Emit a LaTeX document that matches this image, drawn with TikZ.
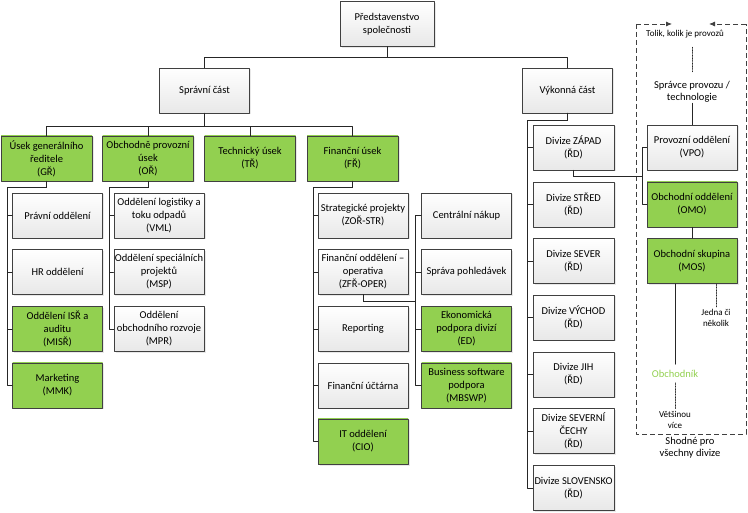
\documentclass[tikz,border=0pt]{standalone}
\usepackage{fontspec}
\setmainfont{Carlito}
\usetikzlibrary{arrows.meta,shadows}
\definecolor{zelena}{RGB}{146,208,80}
\definecolor{obrys}{RGB}{64,64,64}
\begin{document}
\begin{tikzpicture}[x=1pt,y=-1pt,line join=round,line cap=round,>={Latex[length=6pt,width=5pt]},
	blok/.style={draw=obrys,line width=0.8pt,top color=white,bottom color=black!9,minimum width=90pt,minimum height=45pt,inner sep=1pt,align=center,font=\fontsize{10.5}{13}\selectfont,drop shadow={shadow xshift=1.5pt,shadow yshift=-1.5pt,fill=black!18}},
	zblok/.style={blok,top color=zelena,bottom color=zelena},
	spoj/.style={draw=black!85,line width=0.8pt},
	tecky/.style={spoj,line width=0.6pt,densely dotted},
	ramec/.style={draw=obrys,line width=0.8pt,line cap=butt,dash pattern=on 5pt off 3pt},
	popis/.style={font=\fontsize{9}{11}\selectfont,align=center,inner sep=1pt},
	text10/.style={font=\fontsize{10.5}{12}\selectfont,align=center,inner sep=1pt}]
		\useasboundingbox (0,0) rectangle (748,513);
		\path (7,187) coordinate (grs)
			(109,187) coordinate (ors)
			(313,187) coordinate (frs)
			(415,301) coordinate (fns)
			(527,120) coordinate (vys)
			(642,176) coordinate (zas);
		% vedeni
		\node[blok,minimum width=94pt] (pred) at (387,24) {Představenstvo\\společnosti};
		\node[blok] (spr) at (204.5,90.5) {Správní část};
		\node[blok] (vyk) at (567.5,90.5) {Výkonná část};
		\draw[spoj] (pred.south) -- ++(0,11) -| (spr.north);
		\draw[spoj] (pred.south) -- ++(0,11) -| (vyk.north);
		\foreach \n/\x/\t in {gr/46.5/{Úsek generálního\\ředitele\\(GŘ)}, or/148/{Obchodně provozní\\úsek\\(OŘ)}, tr/250/{Technický úsek\\(TŘ)}, fr/352.5/{Finanční úsek\\(FŘ)}}
		{
			\node[zblok,minimum width=91pt] (\n) at (\x,158.5) {\t};
			\draw[spoj] (spr.south) -- ++(0,13) -| (\n.north);
		}
		% spravni cast
		\foreach \n/\s/\y/\t in {prav/blok/215.5/{Právní oddělení}, hr/blok/272/{HR oddělení}, isr/zblok/329/{Oddělení ISŘ a\\auditu\\(MISŘ)}, mmk/zblok/385.5/{Marketing\\(MMK)}}
		{
			\node[\s] (\n) at (57.5,\y) {\t};
			\draw[spoj] (gr.south) |- (grs) |- (\n.west);
		}
		\foreach \n/\y/\t in {vml/215.5/{Oddělení logistiky a\\toku odpadů\\(VML)}, msp/272/{Oddělení speciálních\\projektů\\(MSP)}, mpr/329/{Oddělení\\obchodního rozvoje\\(MPR)}}
		{
			\node[blok] (\n) at (159,\y) {\t};
			\draw[spoj] (or.south) |- (ors) |- (\n.west);
		}
		\foreach \n/\s/\y/\t in {str/blok/215.5/{Strategické projekty\\(ZOŘ-STR)}, oper/blok/272/{Finanční oddělení –\\operativa\\(ZFŘ-OPER)}, rep/blok/329/{Reporting}, uct/blok/385.5/{Finanční účtárna}, cio/zblok/441.5/{IT oddělení\\(CIO)}}
		{
			\node[\s] (\n) at (363,\y) {\t};
			\draw[spoj] (fr.south) |- (frs) |- (\n.west);
		}
		\foreach \n/\s/\y/\t in {nak/blok/215.5/{Centrální nákup}, poh/blok/272/{Správa pohledávek}, ed/zblok/329/{Ekonomická\\podpora divizí\\(ED)}, sw/zblok/385.5/{Business software\\podpora\\(MBSWP)}}
		{
			\node[\s] (\n) at (466.5,\y) {\t};
			\draw[spoj] (oper.south) |- (fns) |- (\n.west);
		}
		% vykonna cast
		\foreach \n/\y/\t in {zapad/147.5/{Divize ZÁPAD\\(ŘD)}, stred/204.5/{Divize STŘED\\(ŘD)}, sever/261/{Divize SEVER\\(ŘD)}, vychod/317.5/{Divize VÝCHOD\\(ŘD)}, jih/374.5/{Divize JIH\\(ŘD)}, cechy/431/{Divize SEVERNÍ\\ČECHY\\(ŘD)}, sk/488/{Divize SLOVENSKO\\(ŘD)}}
		{
			\node[blok,minimum width=81pt] (\n) at (573.5,\y) {\t};
			\draw[spoj] (vyk.south) |- (vys) |- (\n.west);
		}
		% divize
		\path (636,24) coordinate (rl) (746,24) coordinate (rp) (636,434) coordinate (dl) (746,434) coordinate (dp);
		\draw[ramec] (rl) -- (dl) -- (dp) -- (rp);
		\draw[ramec,->] (rl) -- ++(36,0);
		\draw[ramec,->] (rp) -- ++(-37,0);
		\node[popis] (tolik) at (685,34) {Tolik, kolik je provozů};
		\node[text10] (spravce) at (692,91.5) {Správce provozu /\\technologie};
		\node[blok] (vpo) at (692,147.5) {Provozní oddělení\\(VPO)};
		\node[zblok] (omo) at (692,204.5) {Obchodní oddělení\\(OMO)};
		\node[zblok] (mos) at (692,261) {Obchodní skupina\\(MOS)};
		\node[popis] (jedna) at (716,317.5) {Jedna či\\několik};
		\node[text10,text=zelena] (obch) at (675,374) {Obchodník};
		\node[popis] (vetsinou) at (675,419.5) {Většinou\\více};
		\node[text10] (shodne) at (690,447.5) {Shodné pro\\všechny divize};
		\foreach \n in {vpo,omo} \draw[spoj] (zapad.south) |- (zas) |- (\n.west);
		\draw[tecky] ([yshift=-8pt]tolik.south -| spravce.north) -- ([yshift=7pt]spravce.north);
		\draw[spoj] (spravce.south) -- (vpo.north);
		\draw[spoj] (omo.south) -- (mos.north);
		\draw[spoj] (mos.south -| obch.north) -- ([yshift=5pt]obch.north);
		\draw[tecky] ([yshift=-4pt]obch.south) -- ([yshift=1pt]vetsinou.north);
		\draw[tecky] (mos.south -| jedna.north) -- (jedna.north);
\end{tikzpicture}
\end{document}
